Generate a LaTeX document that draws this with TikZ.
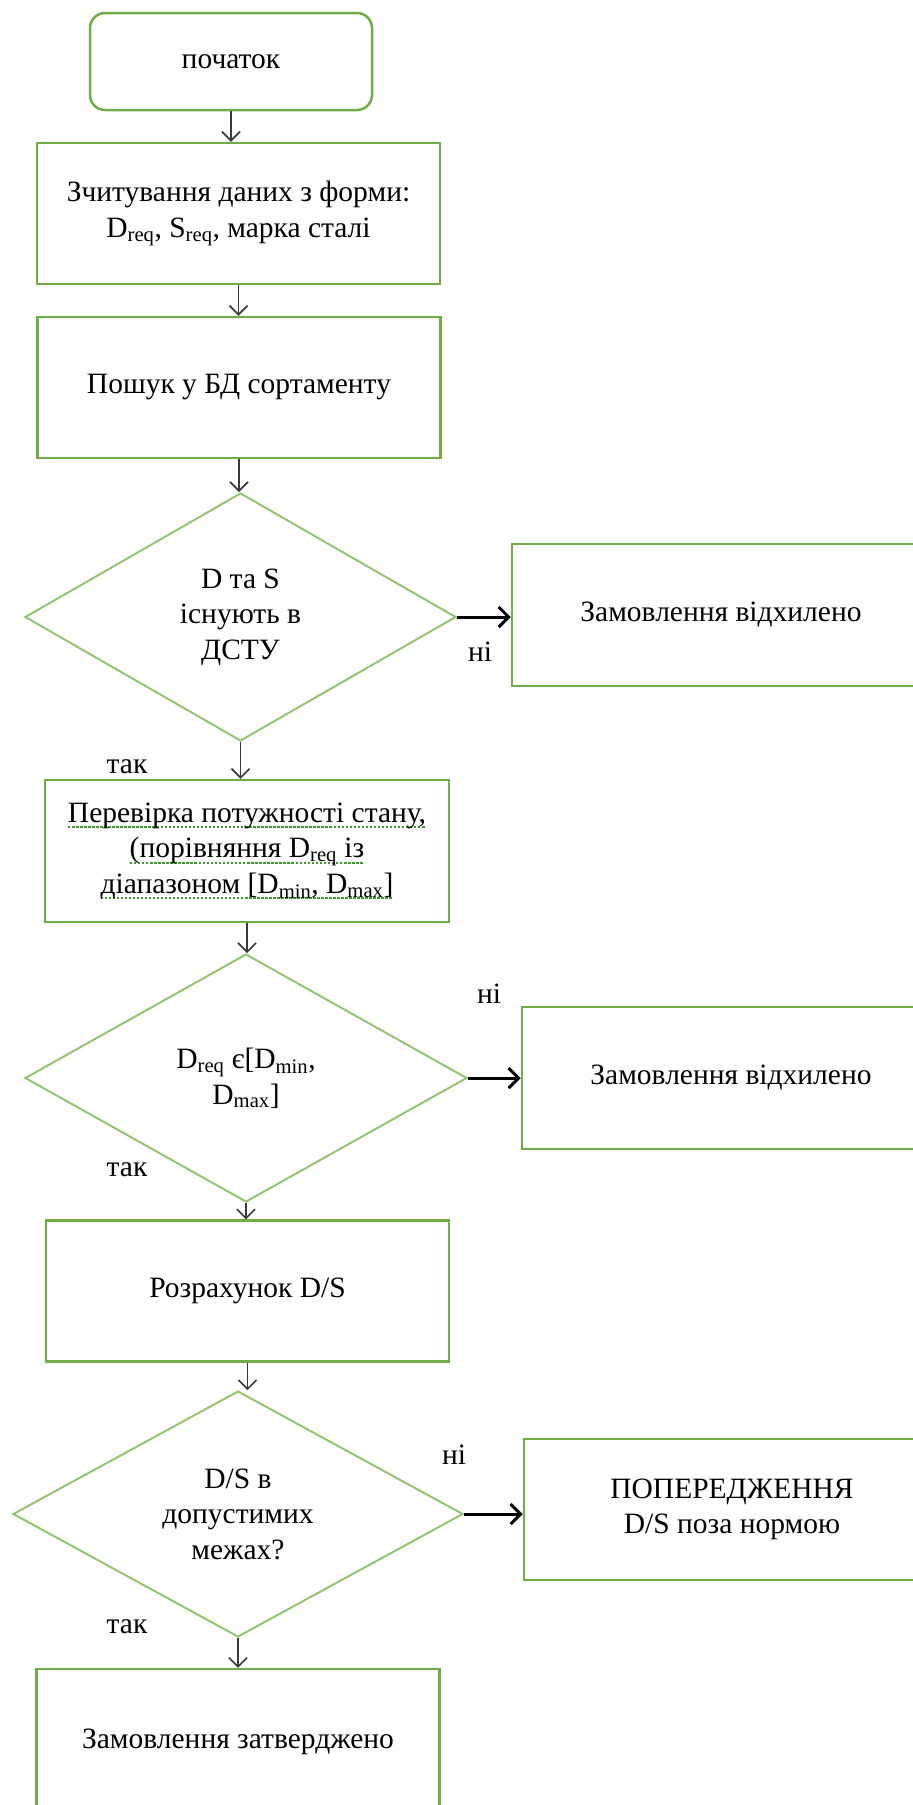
\documentclass[tikz,border=0pt]{standalone}
\usepackage{fontspec}
\setmainfont{Liberation Serif}
\usetikzlibrary{arrows.meta, shapes.geometric}
\definecolor{cgreen}{HTML}{70AD47}
\definecolor{clight}{HTML}{93C572}
\definecolor{cspell}{HTML}{3E9A2E}
\definecolor{cdark}{HTML}{3A3A3A}
\newsavebox\spellbox
\newcommand\spellmark[1]{\sbox\spellbox{#1}\rlap{\raisebox{-6pt}{\textcolor{cspell}{\hbox to \wd\spellbox{\xleaders\hbox{\rule{2.5pt}{2pt}\kern1.5pt}\hfill}}}}\usebox\spellbox}
\tikzset{
  every picture/.style={font=\fontsize{29.5}{35.5}\selectfont, x=1pt, y=-1pt},
  box/.style={draw=cgreen, line width=2.5pt, align=center, inner sep=4pt, minimum width=403pt, minimum height=141pt},
  term/.style={box, rounded corners=15pt, minimum width=282pt, minimum height=97pt},
  cond/.style={diamond, draw=clight, line width=2pt, align=center, inner sep=0pt},
  flow/.style={-{Straight Barb[length=9pt, width=18pt]}, draw=cdark, line width=1.6pt},
  branch/.style={-{Straight Barb[length=10pt, width=20pt]}, draw=black, line width=3pt},
  note/.style={inner sep=0pt},
}
\begin{document}
\begin{tikzpicture}
  \useasboundingbox (0,0) rectangle (913,1805);
  % main column
  \node[term] (start) at (231,61.5) {початок};
  \node[box] (read) at (238.5,213.5) {Зчитування даних з форми:\\D\textsubscript{req}, S\textsubscript{req}, марка сталі};
  \node[box] (search) at (239,387.5) {Пошук у БД сортаменту};
  \node[cond, minimum width=431pt, minimum height=248pt] (dstu) at (240.5,617) {D та S\\існують в\\ДСТУ};
  \node[box, minimum width=404pt, minimum height=142pt] (check) at (247,851)
    {\spellmark{Перевірка потужності стану,}\\\spellmark{(порівняння D\textsubscript{req} із}\\\spellmark{діапазоном [D\textsubscript{min}, D\textsubscript{max}]}};
  \node[cond, minimum width=442pt, minimum height=248pt] (range) at (246,1078) {D\textsubscript{req} є[D\textsubscript{min},\\D\textsubscript{max}]};
  \node[box] (ratio) at (247.5,1291) {Розрахунок D/S};
  \node[cond, minimum width=450pt, minimum height=246pt] (limits) at (238,1514) {D/S в\\допустимих\\межах?};
  \node[box, minimum height=146pt] (approved) at (238,1742) {Замовлення затверджено};
  % right column, cut by the page edge
  \node[box, minimum width=418pt, minimum height=142pt] (reject1) at (721,615) {Замовлення відхилено};
  \node[box, minimum width=418pt, minimum height=142pt] (reject2) at (731,1078) {Замовлення відхилено};
  \node[box, minimum width=416pt] (warning) at (732,1509.5) {ПОПЕРЕДЖЕННЯ\\D/S поза нормою};
  % branch labels
  \foreach \n/\x/\y/\t in {no1/480/652/ні, no2/489/994/ні, no3/454/1455/ні, yes1/127/767/так, yes2/127/1170/так, yes3/127/1627/так}
    \node[note] (\n) at (\x,\y) {\t};
  \foreach \a/\b in {start/read, read/search, search/dstu, dstu/check, check/range, range/ratio, ratio/limits, limits/approved}
    \draw[flow] (\a.south) -- (\a.south |- \b.north);
  \foreach \a/\b in {dstu/reject1, range/reject2, limits/warning}
    \draw[branch] (\a.east) -- (\a.east -| \b.west);
\end{tikzpicture}
\end{document}
